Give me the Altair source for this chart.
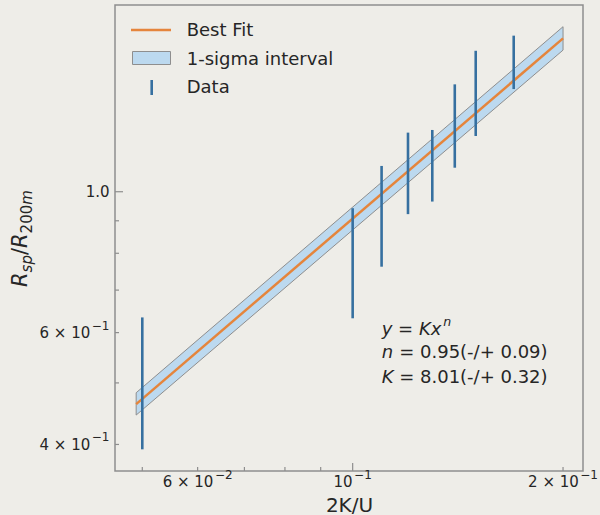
import altair as alt
import pandas as pd

# ---------------- data ----------------
x_data = [0.05, 0.10, 0.11, 0.12, 0.13, 0.14, 0.15, 0.17]
y_low = [0.393, 0.632, 0.762, 0.922, 0.965, 1.091, 1.224, 1.451]
y_high = [0.634, 0.942, 1.098, 1.239, 1.251, 1.476, 1.667, 1.761]

fit_x = [0.049, 0.2]
fit_y = [0.463, 1.744]
band_low = [0.445, 1.671]
band_high = [0.4825, 1.819]

x_domain = [0.0457, 0.2136]
y_domain = [0.3633, 1.968]

x_major_ticks = [0.1]
x_minor_ticks = [0.05, 0.06, 0.07, 0.08, 0.09, 0.2]
y_major_ticks = [1.0]
y_minor_ticks = [0.4, 0.5, 0.6, 0.7, 0.8, 0.9]

# tick labels: (value, base text, exponent text)
x_tick_values = [0.06, 0.1, 0.2]
x_tick_base = ["6 × 10", "10", "2 × 10"]
x_tick_exp = ["−2", "−1", "−1"]
y_tick_values = [0.4, 0.6, 1.0]
y_tick_base = ["4 × 10", "6 × 10", "1.0"]
y_tick_exp = ["−1", "−1", ""]

legend_labels = ["Best Fit", "1-sigma interval", "Data"]
annot_lines = ["y = Kx", "n", "= 0.95(-/+ 0.09)", "= 8.01(-/+ 0.32)"]

# ---------------- styling ----------------
W, H = 468, 466
BG = "#eeede8"
ORANGE = "#e5853c"
BLUE = "#3670a0"
BAND = "#bcd9ef"
EDGE = "#8e8e8e"
TXT = "#262626"
FONT = "DejaVu Sans"
LFS = 15      # tick label font size
SFS = 12      # exponent font size
GAP = 1.5
RAISE = 8.5

ADV = {"0": .636, "1": .636, "2": .636, "3": .636, "4": .636, "5": .636, "6": .636,
       "7": .636, "8": .636, "9": .636, " ": .318, "×": .838, "−": .838, ".": .318}


def tw(s, fs):
    return sum(ADV.get(c, .6) for c in s) * fs


xs = alt.Scale(type="log", domain=x_domain, nice=False)
ys = alt.Scale(type="log", domain=y_domain, nice=False)

x_axis = alt.Axis(
    values=x_tick_values, labels=False,
    ticks=False, tickSize=0, domain=False, grid=False,
    title="2K/U", titleFontSize=20, titleFont=FONT, titleColor=TXT,
    titleFontWeight="normal", titleBaseline="alphabetic", titleY=40,
)
y_axis = alt.Axis(
    values=y_tick_values, labels=False,
    ticks=False, tickSize=0, domain=False, grid=False, title=None,
)

err_df = pd.DataFrame({"x": x_data, "lo": y_low, "hi": y_high})
fit_df = pd.DataFrame({"x": fit_x, "y": fit_y, "lo": band_low, "hi": band_high})
one = pd.DataFrame({"a": [0]})

band = alt.Chart(fit_df).mark_area(fill=BAND, stroke=EDGE, strokeWidth=1, opacity=1).encode(
    x=alt.X("x:Q", scale=xs, axis=x_axis),
    y=alt.Y("lo:Q", scale=ys, axis=y_axis),
    y2="hi:Q",
)

fit = alt.Chart(fit_df).mark_line(color=ORANGE, strokeWidth=2.5).encode(
    x=alt.X("x:Q", scale=xs, axis=x_axis),
    y=alt.Y("y:Q", scale=ys, axis=y_axis),
)

bars = alt.Chart(err_df).mark_rule(color=BLUE, strokeWidth=2.6).encode(
    x=alt.X("x:Q", scale=xs, axis=x_axis),
    y=alt.Y("lo:Q", scale=ys, axis=y_axis),
    y2="hi:Q",
)


# inward ticks
def xticks(vals, length):
    return alt.Chart(pd.DataFrame({"t": vals})).mark_rule(color=EDGE, strokeWidth=1.2).encode(
        x=alt.X("t:Q", scale=xs, axis=x_axis), y=alt.value(H), y2=alt.value(H - length)
    )


def yticks(vals, length):
    return alt.Chart(pd.DataFrame({"t": vals})).mark_rule(color=EDGE, strokeWidth=1.2).encode(
        y=alt.Y("t:Q", scale=ys, axis=y_axis), x=alt.value(0), x2=alt.value(length)
    )


ticks = [xticks(x_major_ticks, 8), xticks(x_minor_ticks, 4),
         yticks(y_major_ticks, 8), yticks(y_minor_ticks, 4)]

# tick labels with real superscripts
labels = []
XB = H + 16.3   # baseline of x tick labels
for v, b, e in zip(x_tick_values, x_tick_base, x_tick_exp):
    bw = tw(b, LFS)
    ew = tw(e, SFS) + GAP if e else 0
    total = bw + ew
    d = pd.DataFrame({"v": [v]})
    labels.append(alt.Chart(d).mark_text(text=b, font=FONT, fontSize=LFS, color=TXT, align="left",
                                         baseline="alphabetic", dx=-total / 2).encode(
        x=alt.X("v:Q", scale=xs, axis=x_axis), y=alt.value(XB)))
    if e:
        labels.append(alt.Chart(d).mark_text(text=e, font=FONT, fontSize=SFS, color=TXT, align="left",
                                             baseline="alphabetic", dx=-total / 2 + bw + GAP).encode(
            x=alt.X("v:Q", scale=xs, axis=x_axis), y=alt.value(XB - RAISE)))

YR = -5.5   # right edge of y tick labels
for v, b, e in zip(y_tick_values, y_tick_base, y_tick_exp):
    ew = tw(e, SFS) + GAP if e else 0
    d = pd.DataFrame({"v": [v]})
    labels.append(alt.Chart(d).mark_text(text=b, font=FONT, fontSize=LFS, color=TXT, align="right",
                                         baseline="alphabetic", dy=5.5).encode(
        y=alt.Y("v:Q", scale=ys, axis=y_axis), x=alt.value(YR - ew)))
    if e:
        labels.append(alt.Chart(d).mark_text(text=e, font=FONT, fontSize=SFS, color=TXT, align="right",
                                             baseline="alphabetic", dy=5.5 - RAISE).encode(
            y=alt.Y("v:Q", scale=ys, axis=y_axis), x=alt.value(YR)))

# manual legend
leg = [
    alt.Chart(one).mark_rule(color=ORANGE, strokeWidth=2.5).encode(
        x=alt.value(16), x2=alt.value(56), y=alt.value(25)),
    alt.Chart(one).mark_rect(fill=BAND, stroke=EDGE, strokeWidth=1).encode(
        x=alt.value(17.5), x2=alt.value(55.5), y=alt.value(46.5), y2=alt.value(59.5)),
    alt.Chart(one).mark_rule(color=BLUE, strokeWidth=2.6).encode(
        x=alt.value(36.7), y=alt.value(75), y2=alt.value(90)),
]
for lab, yb in zip(legend_labels, [31.3, 59.5, 88.3]):
    leg.append(alt.Chart(one).mark_text(
        text=lab, font=FONT, fontSize=18, color=TXT, align="left", baseline="alphabetic"
    ).encode(x=alt.value(71.7), y=alt.value(yb)))

# annotation
AX = 266.7


def txt(t, x, y, fs=18, style="normal"):
    return alt.Chart(one).mark_text(text=t, font=FONT, fontSize=fs, fontStyle=style, color=TXT,
                                    align="left", baseline="alphabetic").encode(
        x=alt.value(x), y=alt.value(y))


ann = [
    txt(annot_lines[0], AX, 330, style="italic"),
    txt(annot_lines[1], AX + 61.5, 321, fs=12.6, style="italic"),
    txt("n", AX, 353.3, style="italic"),
    txt(annot_lines[2], AX + 17.5, 353.3),
    txt("K", AX, 377.7, style="italic"),
    txt(annot_lines[3], AX + 17.5, 377.7),
]

# y-axis title R_sp / R_200m built from pieces (rotated)
YX = -88
SUB = 4.5
ypieces = [
    ("R", 21, "italic", YX, 282),
    ("sp", 15, "italic", YX + SUB, 267.4),
    ("/", 21, "normal", YX, 250.1),
    ("R", 21, "italic", YX, 243.0),
    ("200", 15, "normal", YX + SUB, 228.4),
    ("m", 15, "italic", YX + SUB, 199.8),
]
ytitle = [
    alt.Chart(one).mark_text(text=t, font=FONT, fontSize=fs, fontStyle=st, color=TXT,
                             angle=270, align="left", baseline="alphabetic").encode(
        x=alt.value(px), y=alt.value(py))
    for t, fs, st, px, py in ypieces
]

chart = alt.layer(band, fit, bars, *ticks, *labels, *leg, *ann, *ytitle).properties(
    width=W, height=H,
    autosize="none",
    padding={"left": 115, "top": 5, "right": 17, "bottom": 44},
    background=BG,
).configure_view(
    stroke=EDGE, strokeWidth=1.5, fill=BG
)

chart.save("out.html", embed_options={"renderer": "svg", "actions": False})
